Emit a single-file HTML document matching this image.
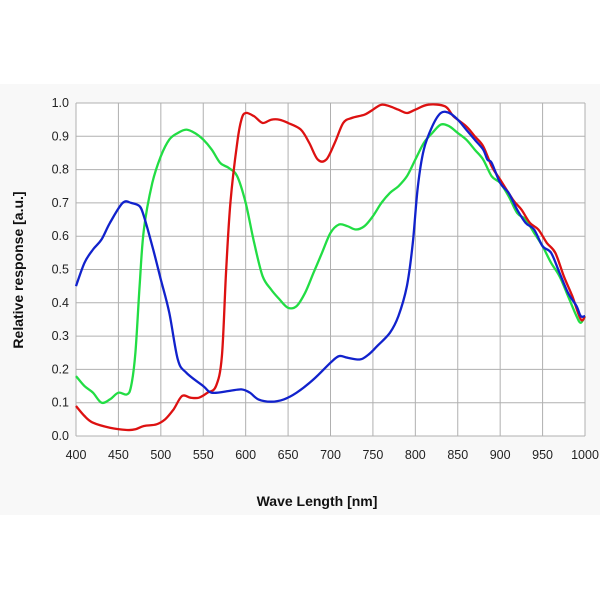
<!DOCTYPE html>
<html><head><meta charset="utf-8"><style>
html,body{margin:0;padding:0;background:#fff;}
svg{display:block;font-family:"Liberation Sans",sans-serif;}
</style></head><body>
<svg id="s" width="600" height="600" viewBox="0 0 600 600">
<rect x="0" y="84" width="600" height="431" fill="#f8f8f8"/>
<rect x="76" y="103" width="509" height="333" fill="#fff"/>
<g id="grid" stroke="#b0b0b0" stroke-width="1"></g>
<g id="lbl" font-size="12.5" fill="#222"></g>
<g id="curves" fill="none" stroke-width="2.3" stroke-linejoin="round"></g>
<text x="317" y="506" text-anchor="middle" font-size="14" font-weight="bold" fill="#111">Wave Length [nm]</text>
<text transform="translate(23,270) rotate(-90)" text-anchor="middle" font-size="14" font-weight="bold" fill="#111">Relative  response [a.u.]</text>
</svg>
<script>
var X=function(n){return 76+(n-400)*509/600;},Y=function(v){return 436-v*333;};
var g=document.getElementById('grid'),l=document.getElementById('lbl'),c=document.getElementById('curves');
var h='';
for(var n=400;n<=1000;n+=50){h+='<line x1="'+X(n)+'" y1="103" x2="'+X(n)+'" y2="436"/>';}
for(var i=0;i<=10;i++){h+='<line x1="76" y1="'+Y(i/10)+'" x2="585" y2="'+Y(i/10)+'"/>';}
g.innerHTML=h;
var t='';
for(var n=400;n<=1000;n+=50)t+='<text x="'+X(n)+'" y="459" text-anchor="middle">'+n+'</text>';
for(var i=0;i<=10;i++)t+='<text x="69" y="'+(Y(i/10)+4)+'" text-anchor="end">'+(i/10).toFixed(1)+'</text>';
l.innerHTML=t;
var B=[400,.45,410,.52,420,.56,430,.59,440,.64,455,.70,465,.70,475,.69,480,.66,490,.57,500,.47,510,.37,520,.23,530,.19,550,.15,560,.13,580,.135,595,.14,605,.13,615,.11,630,.103,645,.11,660,.13,680,.17,700,.22,710,.24,720,.235,735,.23,745,.245,755,.27,770,.31,780,.36,790,.45,797,.58,803,.75,810,.86,820,.93,830,.97,840,.97,850,.95,860,.92,870,.89,880,.86,885,.83,890,.82,900,.76,910,.73,920,.68,930,.64,940,.62,950,.57,960,.55,970,.49,980,.43,990,.39,995,.36,1000,.36];
var R=[400,.09,410,.06,420,.04,440,.025,460,.018,470,.02,480,.03,495,.035,505,.05,515,.08,525,.12,535,.115,545,.115,555,.13,565,.15,572,.24,577,.5,582,.7,590,.88,595,.95,600,.97,610,.96,620,.94,630,.95,640,.95,650,.94,665,.92,675,.88,685,.83,695,.83,705,.88,715,.94,725,.955,740,.965,750,.98,760,.995,770,.99,780,.98,790,.97,800,.98,815,.995,835,.99,845,.96,860,.93,870,.90,880,.87,890,.81,900,.77,915,.71,925,.68,935,.64,945,.62,955,.58,965,.55,975,.48,985,.42,995,.35,1000,.36];
var G=[400,.18,410,.15,420,.13,430,.10,440,.11,450,.13,460,.125,465,.15,470,.25,475,.45,480,.62,490,.76,500,.84,510,.89,520,.91,530,.92,540,.91,550,.89,560,.86,570,.82,580,.805,590,.78,600,.7,610,.58,620,.48,630,.44,640,.41,650,.385,660,.39,670,.43,680,.49,690,.55,700,.61,710,.635,720,.63,730,.62,740,.63,750,.66,760,.70,770,.73,780,.75,790,.78,800,.83,810,.88,820,.91,830,.935,840,.93,850,.91,860,.89,870,.86,880,.83,890,.78,900,.76,910,.72,920,.67,930,.65,940,.61,950,.57,960,.52,970,.48,980,.42,990,.36,995,.34,1000,.36];
function pl(a,col){var p=[];for(var i=0;i<a.length;i+=2)p.push([X(a[i]),Y(a[i+1])]);
var d='M'+p[0][0].toFixed(1)+','+p[0][1].toFixed(1);
for(var i=0;i<p.length-1;i++){var p0=p[i-1]||p[i],p1=p[i],p2=p[i+1],p3=p[i+2]||p2;var k=1/6;
d+=' C'+(p1[0]+(p2[0]-p0[0])*k).toFixed(1)+','+(p1[1]+(p2[1]-p0[1])*k).toFixed(1)+' '+(p2[0]-(p3[0]-p1[0])*k).toFixed(1)+','+(p2[1]-(p3[1]-p1[1])*k).toFixed(1)+' '+p2[0].toFixed(1)+','+p2[1].toFixed(1);}
return '<path stroke="'+col+'" d="'+d+'"/>';}
c.innerHTML=pl(G,'#22dd44')+pl(R,'#dd1111')+pl(B,'#1122cc');
</script>
</body></html>
